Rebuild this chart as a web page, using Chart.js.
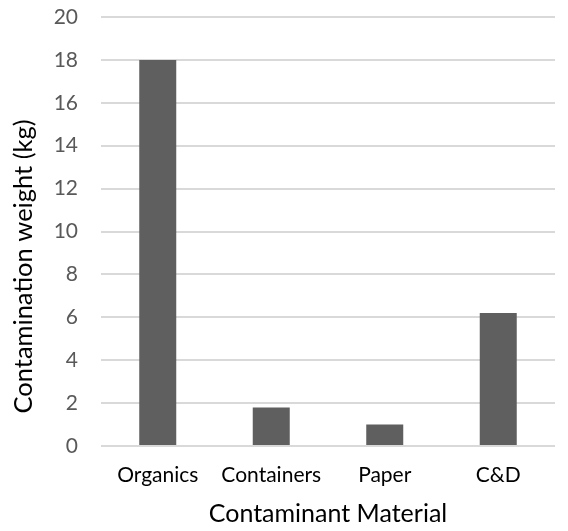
<!DOCTYPE html>
<html>
<head>
<meta charset="utf-8">
<script src="https://cdn.jsdelivr.net/npm/chart.js@4/dist/chart.umd.min.js"></script>
<style>
html,body{margin:0;padding:0;background:#fff;}
#wrap{width:568px;height:531px;}
</style>
</head>
<body>
<div id="wrap"><canvas id="c" width="568" height="531"></canvas></div>
<script>
const categories = ["Organics", "Containers", "Paper", "C&D"];
const weights = [18, 1.8, 1.0, 6.2];
const yTicks = [0, 2, 4, 6, 8, 10, 12, 14, 16, 18, 20];
const xTitle = "Contaminant Material";
const yTitle = "Contamination weight (kg)";

const fontFam = "Lato, 'Open Sans', sans-serif";

// Y-axis title drawn slightly below the axis centre, as in the reference
const yTitlePlugin = {
  id: 'yTitle',
  afterDraw(chart) {
    const ctx = chart.ctx;
    const area = chart.chartArea;
    ctx.save();
    ctx.translate(32, (area.top + area.bottom) / 2 + 35);
    ctx.rotate(-Math.PI / 2);
    ctx.font = "25.5px " + fontFam;
    ctx.fillStyle = '#000000';
    ctx.textAlign = 'center';
    ctx.textBaseline = 'alphabetic';
    ctx.fillText(yTitle, 0, 0);
    ctx.restore();
  }
};

const chart = new Chart(document.getElementById('c'), {
  type: 'bar',
  data: {
    labels: categories,
    datasets: [{
      data: weights,
      backgroundColor: '#5f5f5f',
      borderWidth: 0,
      categoryPercentage: 1,
      barPercentage: 0.326
    }]
  },
  plugins: [yTitlePlugin],
  options: {
    responsive: false,
    animation: false,
    devicePixelRatio: 1,
    layout: { padding: { left: 5, right: 13, top: 17, bottom: 2 } },
    plugins: { legend: { display: false }, tooltip: { enabled: false } },
    scales: {
      x: {
        afterFit: (s) => { s.height = 83; s.paddingLeft = 0; s.paddingRight = 0; },
        grid: { display: false, drawTicks: false },
        border: { display: false },
        ticks: { color: '#000000', font: { family: fontFam, size: 21 }, padding: 17 },
        title: { display: true, text: xTitle, color: '#000000', font: { family: fontFam, size: 25 }, padding: { top: 0, bottom: 0 } }
      },
      y: {
        min: 0, max: 20,
        afterFit: (s) => { s.width = 96; s.paddingTop = 0; s.paddingBottom = 0; },
        afterBuildTicks: (s) => { s.ticks = yTicks.map(v => ({ value: v })); },
        grid: { color: '#d9d9d9', lineWidth: 2, drawTicks: false },
        border: { display: false },
        ticks: { color: '#595959', font: { family: fontFam, size: 21 }, padding: 23 },
        title: { display: false, text: yTitle }
      }
    }
  }
});
</script>
</body>
</html>
